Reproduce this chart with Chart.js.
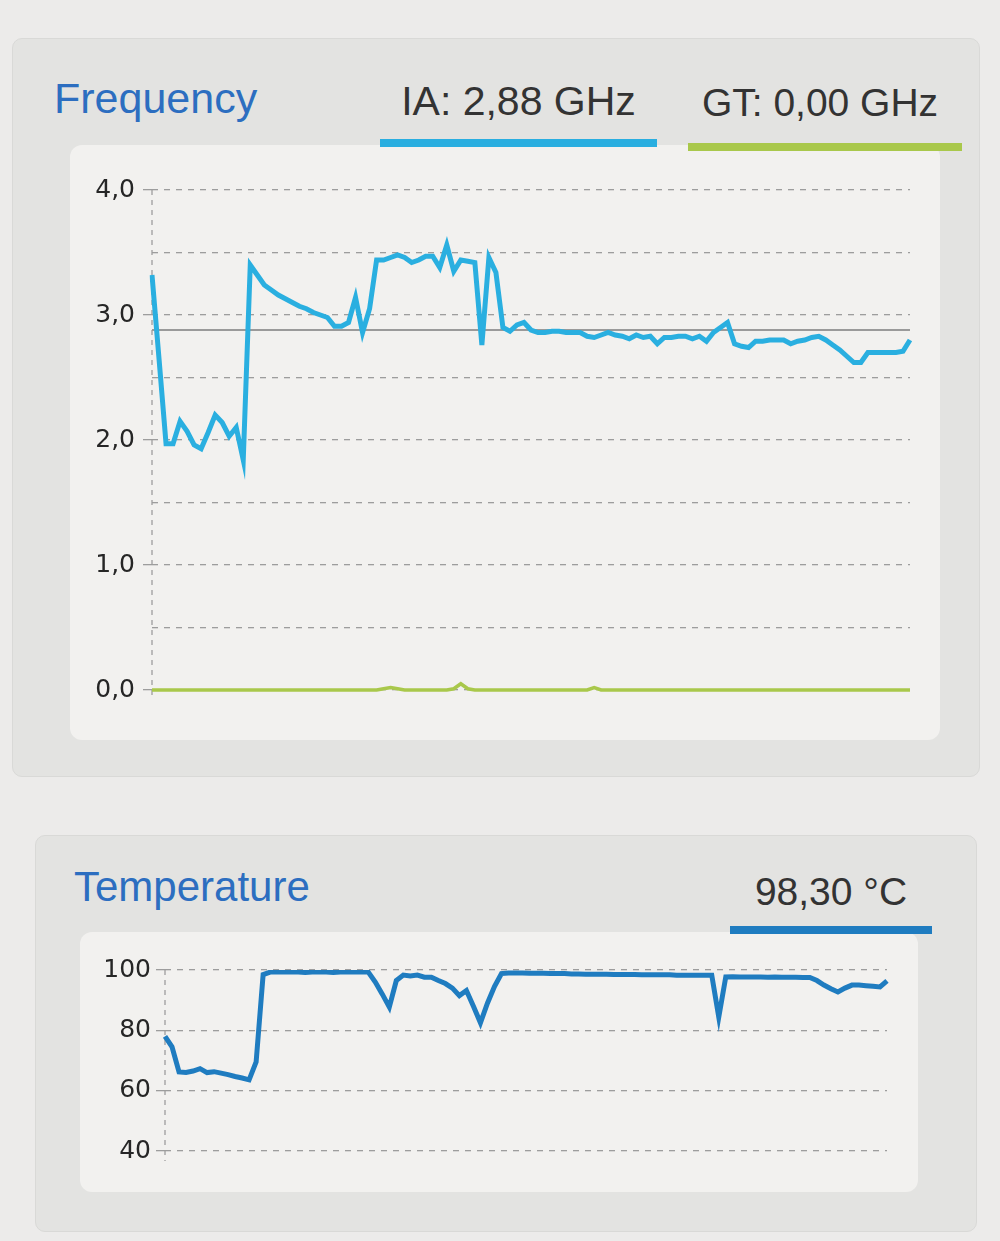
<!DOCTYPE html>
<html>
<head>
<meta charset="utf-8">
<title>Frequency / Temperature</title>
<script src="https://cdn.jsdelivr.net/npm/chart.js@4.4.0/dist/chart.umd.min.js"></script>
<style>
    html, body { margin: 0; padding: 0; }
    body {
        width: 1000px;
        height: 1241px;
        background: #ecebea;
        position: relative;
        overflow: hidden;
        font-family: "Liberation Sans", Arial, sans-serif;
    }
    .panel {
        position: absolute;
        background: #e3e3e1;
        border: 1px solid #d9d9d7;
        border-radius: 10px;
    }
    .card {
        position: absolute;
        background: #f2f1ef;
        border-radius: 12px;
    }
    .title {
        position: absolute;
        line-height: 1;
        white-space: nowrap;
        color: #2c6ec0;
    }
    .reading {
        position: absolute;
        line-height: 1;
        white-space: nowrap;
        color: #333;
        text-align: center;
    }
    .bar { position: absolute; height: 8px; }
    canvas { position: absolute; }
</style>
</head>
<body>

<div class="panel" style="left:12px; top:38px; width:966px; height:737px;"></div>
<div class="card" style="left:70px; top:145px; width:870px; height:595px;"></div>
<div class="title" style="left:54px; top:77px; font-size:43px;">Frequency</div>
<div class="reading" style="left:380px; top:81px; width:277px; font-size:41px;">IA: 2,88 GHz</div>
<div class="bar" style="left:380px; top:139px; width:277px; background:#29aee0;"></div>
<div class="reading" style="left:683px; top:83px; width:274px; font-size:39px;">GT: 0,00 GHz</div>
<div class="bar" style="left:688px; top:143px; width:274px; background:#a9c84b;"></div>
<canvas id="freqChart" style="left:70px; top:145px;" width="870" height="595"></canvas>

<div class="panel" style="left:35px; top:835px; width:940px; height:395px;"></div>
<div class="card" style="left:80px; top:932px; width:838px; height:260px;"></div>
<div class="title" style="left:74px; top:866px; font-size:42px;">Temperature</div>
<div class="reading" style="left:730px; top:872px; width:202px; font-size:39px;">98,30 °C</div>
<div class="bar" style="left:730px; top:926px; width:202px; background:#1f7cc0;"></div>
<canvas id="tempChart" style="left:80px; top:932px;" width="838" height="260"></canvas>

<script>
// IA 頻率 (GHz)
const iaValues = [
    3.32, 2.65, 1.97, 1.97, 2.15, 2.07, 1.96, 1.93, 2.06, 2.2,
    2.14, 2.03, 2.1, 1.84, 3.4, 3.32, 3.24, 3.2, 3.16, 3.13,
    3.1, 3.07, 3.05, 3.02, 3.0, 2.98, 2.91, 2.91, 2.94, 3.14,
    2.86, 3.05, 3.44, 3.44, 3.46, 3.48, 3.46, 3.42, 3.44, 3.47,
    3.47, 3.38, 3.56, 3.35, 3.44, 3.43, 3.42, 2.76, 3.46, 3.34,
    2.9, 2.87, 2.92, 2.94, 2.88, 2.86, 2.86, 2.87, 2.87, 2.86,
    2.86, 2.86, 2.83, 2.82, 2.84, 2.86, 2.84, 2.83, 2.81, 2.84,
    2.82, 2.83, 2.77, 2.82, 2.82, 2.83, 2.83, 2.81, 2.83, 2.79,
    2.86, 2.9, 2.94, 2.77, 2.75, 2.74, 2.79, 2.79, 2.8, 2.8,
    2.8, 2.77, 2.79, 2.8, 2.82, 2.83, 2.8, 2.76, 2.72, 2.67,
    2.62, 2.62, 2.7, 2.7, 2.7, 2.7, 2.7, 2.71, 2.8
];

// GT 頻率 (GHz)
const gtValues = [
    0, 0, 0, 0, 0, 0, 0, 0, 0, 0,
    0, 0, 0, 0, 0, 0, 0, 0, 0, 0,
    0, 0, 0, 0, 0, 0, 0, 0, 0, 0,
    0, 0, 0, 0.01, 0.02, 0.01, 0, 0, 0, 0,
    0, 0, 0, 0.01, 0.05, 0.01, 0, 0, 0, 0,
    0, 0, 0, 0, 0, 0, 0, 0, 0, 0,
    0, 0, 0, 0.02, 0, 0, 0, 0, 0, 0,
    0, 0, 0, 0, 0, 0, 0, 0, 0, 0,
    0, 0, 0, 0, 0, 0, 0, 0, 0, 0,
    0, 0, 0, 0, 0, 0, 0, 0, 0, 0,
    0, 0, 0, 0, 0, 0, 0, 0, 0
];

const iaAverage = 2.88;
const freqTicks = [0, 1, 2, 3, 4];

// 溫度 (°C)
const tempValues = [
    78, 74.5, 66.2, 66, 66.5, 67.3, 66, 66.3, 65.8, 65.3,
    64.7, 64.2, 63.6, 69.5, 98.5, 99.3, 99.3, 99.4, 99.3, 99.3,
    99.2, 99.3, 99.3, 99.3, 99.2, 99.3, 99.3, 99.3, 99.3, 99.3,
    96, 92, 87.7, 96.5, 98.3, 98, 98.3, 97.6, 97.6, 96.5,
    95.5, 94, 91.5, 93.2, 88, 82.5, 89, 94.5, 98.8, 99,
    99, 99, 98.9, 98.9, 98.9, 98.8, 98.8, 98.8, 98.7, 98.7,
    98.6, 98.6, 98.6, 98.6, 98.5, 98.5, 98.5, 98.5, 98.4, 98.4,
    98.4, 98.4, 98.4, 98.3, 98.3, 98.3, 98.3, 98.3, 98.3, 84.4,
    97.7, 97.8, 97.7, 97.7, 97.7, 97.7, 97.6, 97.7, 97.6, 97.6,
    97.6, 97.5, 97.5, 96.5, 95, 93.8, 92.7, 94, 95, 95,
    94.8, 94.6, 94.4, 96.4
];

const tempTicks = [40, 60, 80, 100];

const freqLabels = iaValues.map((v, i) => i);
const tempLabels = tempValues.map((v, i) => i);

document.addEventListener('DOMContentLoaded', function() {
    const gridColor = '#9d9d9d';

    // 虛線 y 軸與平均線
    const axisPlugin = {
        id: 'axisExtras',
        beforeDatasetsDraw(chart, args, opts) {
            const ctx = chart.ctx;
            const area = chart.chartArea;
            ctx.save();
            ctx.strokeStyle = gridColor;
            ctx.lineWidth = 1.3;
            ctx.setLineDash([5, 5]);
            ctx.beginPath();
            ctx.moveTo(area.left, area.top);
            ctx.lineTo(area.left, area.bottom + 10);
            ctx.stroke();
            ctx.restore();

            if (opts.avg === undefined) return;
            const y = chart.scales.y.getPixelForValue(opts.avg);
            ctx.save();
            ctx.strokeStyle = opts.avgColor;
            ctx.lineWidth = 2;
            ctx.beginPath();
            ctx.moveTo(area.left, y);
            ctx.lineTo(area.right, y);
            ctx.stroke();
            ctx.restore();
        }
    };

    // 建立 y 軸設定
    function makeY(min, max, step, labelTicks, axisWidth, fmt, padding) {
        return {
            min: min,
            max: max,
            afterFit: scale => { scale.width = axisWidth; },
            ticks: {
                stepSize: step,
                padding: padding,
                color: '#262626',
                font: { family: 'DejaVu Sans', size: 25 },
                callback: value => labelTicks.includes(value) ? fmt(value) : ''
            },
            grid: {
                color: gridColor,
                lineWidth: 1.3,
                tickLength: 9,
                tickColor: ctx => (ctx.tick && labelTicks.includes(ctx.tick.value)) ? gridColor : 'rgba(0,0,0,0)'
            },
            border: {
                display: false,
                dash: [6, 6]
            }
        };
    }

    // 頻率圖表
    new Chart(document.getElementById('freqChart').getContext('2d'), {
        type: 'line',
        data: {
            labels: freqLabels,
            datasets: [{
                label: 'IA',
                data: iaValues,
                borderColor: '#2aafe0',
                borderWidth: 5,
                pointRadius: 0,
                tension: 0,
                fill: false
            }, {
                label: 'GT',
                data: gtValues,
                borderColor: '#a9c84b',
                borderWidth: 3.5,
                pointRadius: 0,
                tension: 0,
                fill: false,
                clip: false
            }]
        },
        options: {
            responsive: false,
            animation: false,
            layout: { padding: { top: 45, right: 30, bottom: 50, left: 0 } },
            plugins: {
                legend: { display: false },
                tooltip: { enabled: false },
                axisExtras: { avg: iaAverage, avgColor: '#9a9a9a' }
            },
            scales: {
                x: { display: false },
                y: makeY(0, 4, 0.5, freqTicks, 82, v => v.toFixed(1).replace('.', ','), 8)
            }
        },
        plugins: [axisPlugin]
    });

    // 溫度圖表
    new Chart(document.getElementById('tempChart').getContext('2d'), {
        type: 'line',
        data: {
            labels: tempLabels,
            datasets: [{
                label: 'Temperature',
                data: tempValues,
                borderColor: '#1f7cc0',
                borderWidth: 5,
                pointRadius: 0,
                tension: 0,
                fill: false
            }]
        },
        options: {
            responsive: false,
            animation: false,
            layout: { padding: { top: 38, right: 31, bottom: 41, left: 0 } },
            plugins: {
                legend: { display: false },
                tooltip: { enabled: false }
            },
            scales: {
                x: { display: false },
                y: makeY(40, 100, 10, tempTicks, 85, v => String(v), 5)
            }
        },
        plugins: [axisPlugin]
    });
});
</script>
</body>
</html>
